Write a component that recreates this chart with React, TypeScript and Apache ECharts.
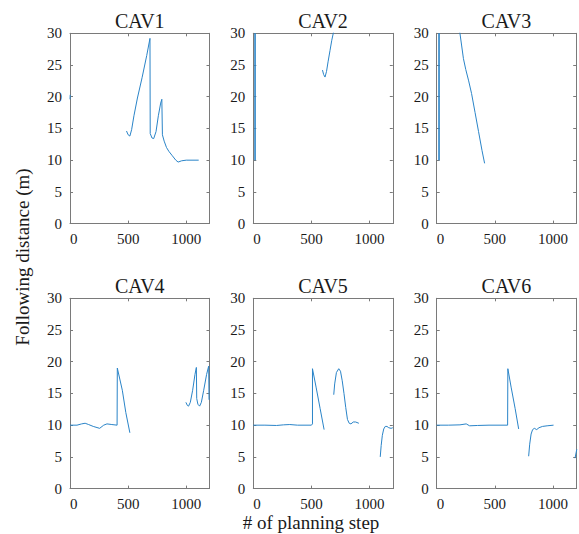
import React, { useEffect, useRef } from "react";
import * as echarts from "echarts";

const titles = ["CAV1", "CAV2", "CAV3", "CAV4", "CAV5", "CAV6"];
const xTicks = [0, 500, 1000];
const yTicks = [0, 5, 10, 15, 20, 25, 30];

// CAV1
const cav1a = [[0, 19.6], [2, 20.3]];
const cav1b = [[486, 14.6], [500, 14.0], [515, 13.8], [530, 14.8], [550, 17.0], [580, 19.8], [620, 23.0], [660, 26.5], [688, 29.2], [690, 14.2], [705, 13.5], [720, 13.4], [740, 14.5], [760, 17.0], [780, 19.0], [790, 19.6], [795, 14.0], [810, 13.0], [830, 12.0], [850, 11.4], [880, 10.7], [910, 10.0], [930, 9.7], [960, 9.9], [1000, 10.0], [1107, 10.0]];
// CAV2
const cav2a = [[15, 10], [15, 30]];
const cav2b = [[595, 24.2], [605, 23.5], [617, 23.1], [630, 24.0], [643, 25.5], [660, 27.3], [675, 28.9], [695, 30.6]];
// CAV3
const cav3a = [[20, 10], [20, 30]];
const cav3b = [[195, 30.6], [200, 30], [215, 28.0], [230, 26.0], [250, 24.3], [275, 22.5], [300, 20.5], [330, 17.5], [360, 14.5], [390, 11.5], [412, 9.5]];
// CAV4
const cav4a = [[0, 10], [60, 10], [100, 10.2], [130, 10.3], [160, 10.1], [200, 9.8], [255, 9.5], [290, 10], [318, 10.2], [360, 10.1], [405, 10.0], [407, 19], [450, 15.5], [480, 12.0], [515, 8.8]];
const cav4b = [[997, 13.6], [1010, 13.1], [1020, 13.0], [1035, 13.6], [1055, 15.5], [1075, 18.0], [1087, 19.1], [1090, 14.2], [1100, 13.3], [1115, 13.0], [1130, 13.6], [1150, 15.5], [1175, 18.0], [1193, 19.3], [1196, 14.0]];
// CAV5
const cav5a = [[0, 10], [100, 10], [200, 9.95], [260, 10.05], [314, 10.1], [380, 10.0], [500, 10.0], [509, 10.2], [509, 18.9], [540, 16.0], [575, 12.6], [609, 9.3]];
const cav5b = [[692, 14.8], [700, 16.5], [715, 18.3], [735, 18.9], [750, 18.5], [765, 17.0], [780, 15.0], [795, 12.8], [810, 10.9], [825, 10.3], [840, 10.2], [860, 10.5], [880, 10.5], [908, 10.3]];
const cav5c = [[1092, 5.0], [1100, 6.8], [1110, 8.4], [1122, 9.4], [1135, 9.8], [1150, 9.8], [1165, 9.6], [1185, 9.5], [1200, 9.6]];
// CAV6
const cav6a = [[0, 10], [100, 10], [200, 10.05], [254, 10.2], [283, 9.9], [350, 9.95], [450, 10.0], [610, 10.0], [612, 18.9], [640, 16.0], [675, 12.6], [705, 9.4]];
const cav6b = [[791, 5.1], [800, 7.0], [812, 8.6], [825, 9.3], [840, 9.5], [860, 9.3], [880, 9.6], [910, 9.8], [950, 9.9], [1005, 10.0]];
const cav6c = [[1190, 4.8], [1205, 6.2]];

const panels = [
  [cav1a, cav1b],
  [cav2a, cav2b],
  [cav3a, cav3b],
  [cav4a, cav4b],
  [cav5a, cav5b, cav5c],
  [cav6a, cav6b, cav6c],
];

const colLefts = [70, 253.3, 436.7];
const rowTops = [33.3, 298.3];
const plotW = 139.5;
const plotH = 190.3;

const FONT = "Liberation Serif";
const AXIS_COLOR = "#7a7a7a";
const TEXT_COLOR = "#1a1a1a";
const LINE_COLOR = "#2a84c8";

export default function App() {
  const ref = useRef<HTMLDivElement>(null);
  useEffect(() => {
    document.body.style.margin = "0";
    if (!ref.current) return;
    const chart = echarts.init(ref.current, null, { renderer: "svg" });
    const grids: any[] = [];
    const xAxes: any[] = [];
    const yAxes: any[] = [];
    const series: any[] = [];
    panels.forEach((segs, i) => {
      const r = Math.floor(i / 3);
      const c = i % 3;
      const left = colLefts[c];
      const top = rowTops[r];
      grids.push({ left, top, width: plotW, height: plotH, containLabel: false, show: false });
      const lineStyle = { color: AXIS_COLOR, width: 1 };
      const fmt = (v: number) => String(v);
      xAxes.push({
        gridIndex: i, type: "value", min: 0, max: 1200, position: "bottom",
        axisLine: { show: true, onZero: false, lineStyle },
        axisTick: { show: true, inside: true, length: 3, customValues: xTicks, lineStyle },
        axisLabel: { show: true, customValues: xTicks, formatter: fmt, fontFamily: FONT, fontSize: 15, color: TEXT_COLOR, margin: 8, alignMinLabel: "left" },
        splitLine: { show: false },
      });
      xAxes.push({
        gridIndex: i, type: "value", min: 0, max: 1200, position: "top",
        axisLine: { show: true, onZero: false, lineStyle },
        axisTick: { show: true, inside: true, length: 3, customValues: xTicks, lineStyle },
        axisLabel: { show: false },
        splitLine: { show: false },
      });
      yAxes.push({
        gridIndex: i, type: "value", min: 0, max: 30, interval: 5, position: "left",
        axisLine: { show: true, onZero: false, lineStyle },
        axisTick: { show: true, inside: true, length: 3, lineStyle },
        axisLabel: { show: true, formatter: fmt, fontFamily: FONT, fontSize: 15, color: TEXT_COLOR, margin: 8 },
        splitLine: { show: false },
      });
      yAxes.push({
        gridIndex: i, type: "value", min: 0, max: 30, interval: 5, position: "right",
        axisLine: { show: true, onZero: false, lineStyle },
        axisTick: { show: true, inside: true, length: 3, lineStyle },
        axisLabel: { show: false },
        splitLine: { show: false },
      });
      segs.forEach((d, k) => {
        const thick = (i === 1 || i === 2) && k === 0;
        series.push({
          type: "line", xAxisIndex: 2 * i, yAxisIndex: 2 * i, data: d,
          showSymbol: false, symbol: "none", clip: true, silent: true,
          lineStyle: { color: LINE_COLOR, width: thick ? 1.6 : 1 },
        });
      });
    });
    const titleGraphics = titles.map((t, i) => {
      const r = Math.floor(i / 3);
      const c = i % 3;
      return {
        type: "text",
        x: colLefts[c] + plotW / 2,
        y: rowTops[r] - 12.5,
        style: { text: t, font: `20px ${FONT}`, fill: TEXT_COLOR, align: "center", verticalAlign: "middle" },
      };
    });
    chart.setOption({
      animation: false,
      backgroundColor: "#ffffff",
      textStyle: { fontFamily: FONT },
      grid: grids,
      xAxis: xAxes,
      yAxis: yAxes,
      series,
      graphic: [
        ...titleGraphics,
        {
          type: "text", x: 22, y: 257, rotation: Math.PI / 2,
          style: { text: "Following distance (m)", font: `19px ${FONT}`, fill: TEXT_COLOR, align: "center", verticalAlign: "middle" },
        },
        {
          type: "text", x: 311, y: 522,
          style: { text: "# of planning step", font: `19px ${FONT}`, fill: TEXT_COLOR, align: "center", verticalAlign: "middle" },
        },
      ],
    });
    return () => chart.dispose();
  }, []);
  return <div ref={ref} style={{ width: 579, height: 534 }} />;
}
